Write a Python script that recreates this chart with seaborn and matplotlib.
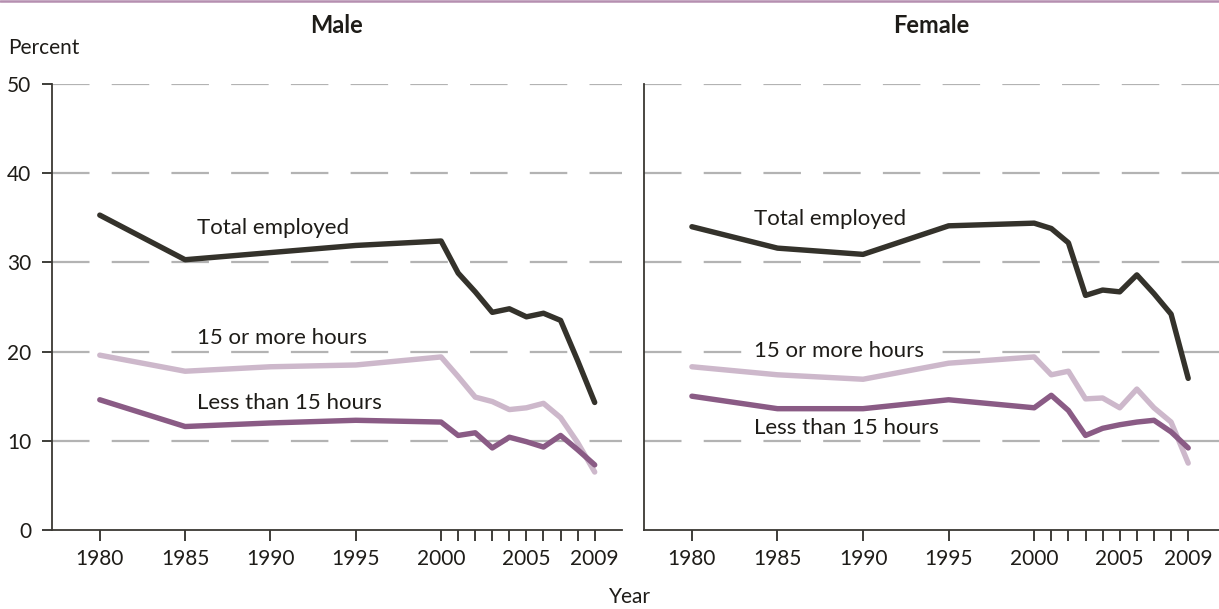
import pandas as pd
import matplotlib
matplotlib.use('Agg')
import matplotlib.pyplot as plt
import seaborn as sns

years = [1980, 1985, 1990, 1995, 2000, 2001, 2002, 2003, 2004, 2005, 2006, 2007, 2008, 2009]

male_total = [35.3, 30.3, 31.1, 31.9, 32.4, 28.8, 26.7, 24.4, 24.8, 23.9, 24.3, 23.5, 19.0, 14.3]
male_15plus = [19.6, 17.8, 18.3, 18.5, 19.4, 17.2, 14.9, 14.4, 13.5, 13.7, 14.2, 12.6, 9.8, 6.5]
male_under15 = [14.6, 11.6, 12.0, 12.3, 12.1, 10.6, 10.9, 9.2, 10.4, 9.9, 9.3, 10.6, 9.0, 7.3]

female_total = [34.0, 31.6, 30.9, 34.1, 34.4, 33.8, 32.2, 26.3, 26.9, 26.7, 28.6, 26.5, 24.2, 17.0]
female_15plus = [18.3, 17.4, 16.9, 18.7, 19.4, 17.4, 17.8, 14.7, 14.8, 13.7, 15.8, 13.7, 12.1, 7.5]
female_under15 = [15.0, 13.6, 13.6, 14.6, 13.7, 15.1, 13.4, 10.6, 11.4, 11.8, 12.1, 12.3, 11.0, 9.2]

series = ["Total employed", "15 or more hours", "Less than 15 hours"]
colors = {"Total employed": "#34322b", "15 or more hours": "#cdb8cb", "Less than 15 hours": "#8a5b85"}

tick_years = years
tick_labels = ["1980", "1985", "1990", "1995", "2000", "", "", "", "", "2005", "", "", "", "2009"]

# label positions (year, value) per panel
male_labels = [(1985.7, 33.9), (1985.7, 21.5), (1985.7, 14.2)]
female_labels = [(1983.6, 34.9), (1983.6, 20.1), (1983.6, 11.4)]


def make_long(total, plus, under):
    rows = []
    for name, vals in zip(series, [total, plus, under]):
        for y, v in zip(years, vals):
            rows.append({"year": y, "value": v, "series": name})
    return pd.DataFrame(rows)


sns.set_theme(style="white")
plt.rcParams['font.family'] = ['Lato', 'DejaVu Sans']
plt.rcParams['lines.scale_dashes'] = False
text_color = "#1e1c18"

fig = plt.figure(figsize=(12.19, 6.09), dpi=100)
ax_m = fig.add_axes([52 / 1219, 79 / 609, (622 - 52) / 1219, 446 / 609])
ax_f = fig.add_axes([644 / 1219, 79 / 609, (1219 - 644) / 1219, 446 / 609])

panels = [
    (ax_m, make_long(male_total, male_15plus, male_under15), "Male", male_labels),
    (ax_f, make_long(female_total, female_15plus, female_under15), "Female", female_labels),
]

for ax, df, title, labels in panels:
    for yv in [10, 20, 30, 40, 50]:
        ax.axhline(yv, color="#b3b3b3", lw=1.6, linestyle=(0, (27, 16)), zorder=0)
    sns.lineplot(data=df, x="year", y="value", hue="series", hue_order=series,
                 palette=colors, linewidth=3.9, legend=False, ax=ax, zorder=3)
    ax.set_xlim(1977.2, 2010.6 if ax is ax_m else 2010.8)
    ax.set_ylim(0, 50)
    ax.set_xticks(tick_years)
    ax.set_xticklabels(tick_labels, fontsize=15, color=text_color)
    ax.tick_params(axis="x", length=8, width=1.2, color=text_color, pad=6, direction="out", bottom=True)
    ax.set_xlabel("")
    ax.set_ylabel("")
    ax.set_title(title, fontsize=17, fontweight="bold", color=text_color, pad=37)
    for s in ["top", "right"]:
        ax.spines[s].set_visible(False)
    for s in ["left", "bottom"]:
        ax.spines[s].set_color("#3a3833")
        ax.spines[s].set_linewidth(1.3)
    for name, (lx, ly) in zip(series, labels):
        kw = {}
        if ax is ax_f and name == "15 or more hours":
            kw["bbox"] = dict(facecolor="white", edgecolor="none", pad=1)
        ax.text(lx, ly, name, fontsize=16, color=text_color, va="center", ha="left", zorder=4, **kw)

ax_m.set_yticks([0, 10, 20, 30, 40, 50])
ax_m.set_yticklabels(["0", "10", "20", "30", "40", "50"], fontsize=15, color=text_color)
ax_m.tick_params(axis="y", length=7, width=1.2, color=text_color, pad=8, direction="out", left=True)
ax_f.set_yticks([])

fig.text(8 / 1219, 1 - 48 / 609, "Percent", fontsize=15, color=text_color, va="center", ha="left")
fig.text(630 / 1219, 1 - 597 / 609, "Year", fontsize=15, color=text_color, va="center", ha="center")
fig.add_artist(plt.Line2D([0, 1], [1 - 1 / 609, 1 - 1 / 609], color="#b58fb0", lw=1.8, transform=fig.transFigure))

fig.savefig("out.png", dpi=100)
